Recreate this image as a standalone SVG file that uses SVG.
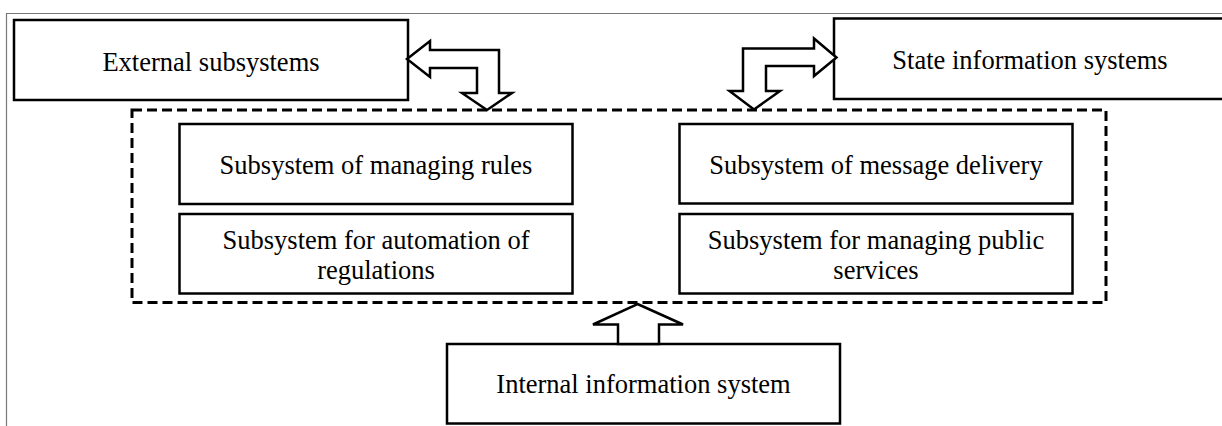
<svg xmlns="http://www.w3.org/2000/svg" width="1222" height="426" viewBox="0 0 1222 426">
<style>
.box{fill:#fff;stroke:#000;stroke-width:2.5}
.lbl{font-family:"Liberation Serif","Times New Roman",serif;font-size:26.5px;fill:#000;text-anchor:middle}
.arr{fill:#fff;stroke:#000;stroke-width:2.5;stroke-linejoin:miter}
</style>
<rect width="1222" height="426" fill="#fff"/>
<path d="M6.5 426 V13.5 H1222" fill="none" stroke="#777" stroke-width="1.2"/>
<g id="container">
<rect x="132" y="110" width="974" height="192.5" fill="none" stroke="#000" stroke-width="3" stroke-dasharray="10,5"/>
</g>
<g id="external">
<rect class="box" x="14" y="20" width="394" height="80"/>
<text class="lbl" x="211" y="71">External subsystems</text>
</g>
<g id="state">
<rect class="box" x="834" y="18.5" width="400" height="80.5"/>
<text class="lbl" x="1030" y="69">State information systems</text>
</g>
<g id="rules">
<rect class="box" x="179.5" y="124" width="393" height="80"/>
<text class="lbl" x="376" y="174">Subsystem of managing rules</text>
</g>
<g id="regulations">
<rect class="box" x="179.5" y="214" width="393" height="79.5"/>
<text class="lbl" x="376" y="249">Subsystem for automation of</text>
<text class="lbl" x="376" y="279">regulations</text>
</g>
<g id="delivery">
<rect class="box" x="679.5" y="124" width="393" height="79.5"/>
<text class="lbl" x="876" y="174">Subsystem of message delivery</text>
</g>
<g id="public">
<rect class="box" x="679.5" y="214" width="393" height="79.5"/>
<text class="lbl" x="876" y="249">Subsystem for managing public</text>
<text class="lbl" x="876" y="278.5">services</text>
</g>
<g id="internal">
<rect class="box" x="447" y="344" width="393" height="79.5"/>
<text class="lbl" x="643.5" y="393">Internal information system</text>
</g>
<g id="connectors">
<path class="arr" d="M407 59 L430 41 L430 50 L499 50 L499 93 L512 93 L487 110 L462 93 L477 93 L477 68 L430 68 L430 77 Z"/>
<path class="arr" d="M836.5 57.5 L814 38.5 L814 48.5 L743 48.5 L743 91 L729.5 91 L754 109.5 L780 91 L766 91 L766 66 L814 66 L814 76 Z"/>
<path class="arr" d="M637.5 304 L683 324.5 L659 324.5 L659 344 L618 344 L618 324.5 L593 324.5 Z"/>
</g>
</svg>
